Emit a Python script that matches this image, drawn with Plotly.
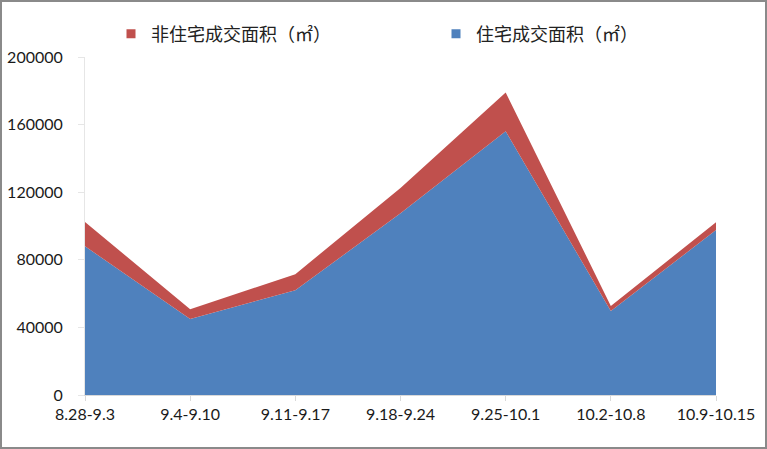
import plotly.graph_objects as go

categories = ["8.28-9.3", "9.4-9.10", "9.11-9.17", "9.18-9.24", "9.25-10.1", "10.2-10.8", "10.9-10.15"]
residential = [88000, 45000, 62000, 107500, 156000, 49700, 97600]
non_residential = [14400, 5700, 9500, 15000, 23000, 3000, 4600]
y_ticks = [0, 40000, 80000, 120000, 160000, 200000]

name_non = "非住宅成交面积（㎡）"
name_res = "住宅成交面积（㎡）"
blue = "#4F81BD"
red = "#C0504D"

W, H = 767, 449
ml, mr, mt, mb = 85, 51, 57, 54
pw, ph = W - ml - mr, H - mt - mb

fig = go.Figure()
fig.add_trace(go.Scatter(x=categories, y=residential, stackgroup="s", mode="none",
                         fillcolor=blue, name=name_res, showlegend=False))
fig.add_trace(go.Scatter(x=categories, y=non_residential, stackgroup="s", mode="none",
                         fillcolor=red, name=name_non, showlegend=False))
# legend entries (small square swatches), each in its own legend box
fig.add_trace(go.Scatter(x=[None], y=[None], mode="markers", name=name_non, legend="legend",
                         marker=dict(symbol="square", size=9, color=red)))
fig.add_trace(go.Scatter(x=[None], y=[None], mode="markers", name=name_res, legend="legend2",
                         marker=dict(symbol="square", size=9, color=blue)))

def px_x(p):
    return (p - ml) / pw

def px_y(p):
    return (H - mb - p) / ph

fig.add_shape(type="rect", xref="paper", yref="paper",
              x0=px_x(1), x1=px_x(W - 1), y0=px_y(H - 1), y1=px_y(1),
              line=dict(color="#8A8A8A", width=2), fillcolor="rgba(0,0,0,0)", layer="above")

legend_common = dict(orientation="h", xref="container", yref="container", xanchor="left",
                     y=1 - 34 / H, yanchor="middle", bgcolor="rgba(0,0,0,0)",
                     font=dict(family="'Noto Sans CJK SC', sans-serif", size=18, color="#222"))

fig.update_layout(
    width=W, height=H,
    margin=dict(l=ml, r=mr, t=mt, b=mb, autoexpand=False),
    paper_bgcolor="white", plot_bgcolor="white",
    font=dict(family="Lato, 'Liberation Sans', sans-serif", size=15, color="#1a1a1a"),
    showlegend=True,
    legend=dict(x=111 / W, **legend_common),
    legend2=dict(x=436 / W, **legend_common),
    xaxis=dict(type="category", range=[0, len(categories) - 1], showgrid=False,
               showline=True, linecolor="#D9D9D9", linewidth=1,
               ticks="outside", ticklen=5, tickcolor="#D9D9D9",
               tickfont=dict(size=16), fixedrange=True),
    yaxis=dict(range=[0, 200000], tickvals=y_ticks, ticktext=[str(v) for v in y_ticks],
               showgrid=False, zeroline=False, showline=True, linecolor="#E6E6E6",
               ticks="outside", ticklen=6, tickcolor="#E6E6E6", ticklabelstandoff=12,
               tickfont=dict(size=16), fixedrange=True),
)

fig.write_html("out.html", config={"displayModeBar": False},
               post_script="document.body.style.margin='0';")
